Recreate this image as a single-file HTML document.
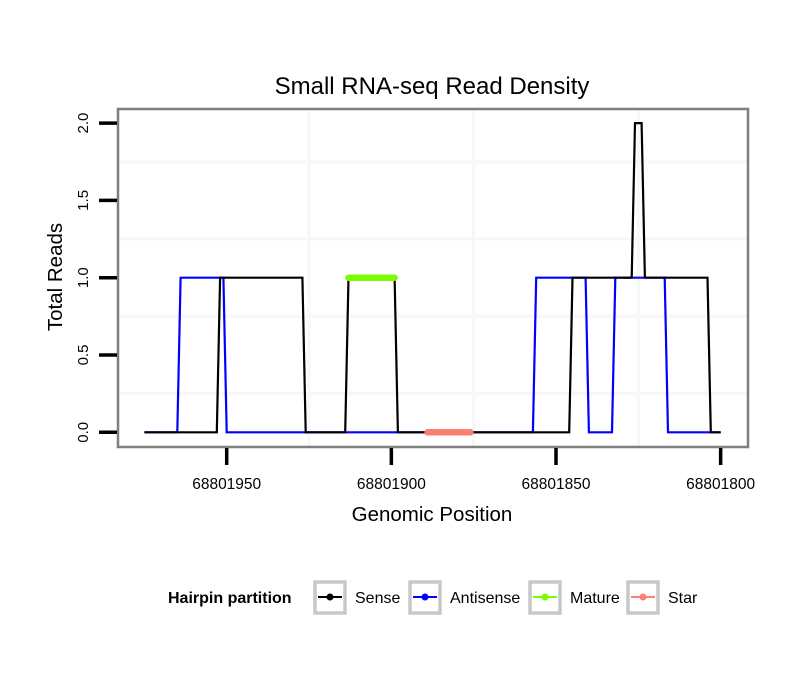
<!DOCTYPE html>
<html><head><meta charset="utf-8"><style>
body{margin:0;background:#fff;}
svg{display:block;font-family:"Liberation Sans",sans-serif;}
</style></head><body>
<svg id="chart" width="810" height="690">
<rect x="0" y="0" width="810" height="690" fill="#fff"/>
<text x="432" y="94" font-size="24" text-anchor="middle">Small RNA-seq Read Density</text>
<rect x="118" y="109" width="630" height="338" fill="#fff"/>
<g id="grid"></g>
<g id="series"></g>
<rect x="118" y="109" width="630" height="338" fill="none" stroke="#7f7f7f" stroke-width="2.5"/>
<g id="axes"></g>
<text x="432" y="521" font-size="20.5" text-anchor="middle">Genomic Position</text>
<text transform="translate(62,277) rotate(-90)" font-size="20.5" text-anchor="middle">Total Reads</text>
<g>
<text x="168" y="603" font-size="16" font-weight="bold">Hairpin partition</text>
<g><rect x="315" y="582" width="30" height="31" fill="#fff" stroke="#c8c8c8" stroke-width="3.5"/><line x1="318" y1="597" x2="342" y2="597" stroke="#000" stroke-width="2"/><circle cx="330" cy="597" r="3.5" fill="#000"/><text x="355" y="603" font-size="16">Sense</text></g>
<g><rect x="410" y="582" width="30" height="31" fill="#fff" stroke="#c8c8c8" stroke-width="3.5"/><line x1="413" y1="597" x2="437" y2="597" stroke="#00f" stroke-width="2"/><circle cx="425" cy="597" r="3.5" fill="#00f"/><text x="450" y="603" font-size="16">Antisense</text></g>
<g><rect x="530" y="582" width="30" height="31" fill="#fff" stroke="#c8c8c8" stroke-width="3.5"/><line x1="533" y1="597" x2="557" y2="597" stroke="#7cfc00" stroke-width="2"/><circle cx="545" cy="597" r="3.5" fill="#7cfc00"/><text x="570" y="603" font-size="16">Mature</text></g>
<g><rect x="628" y="582" width="30" height="31" fill="#fff" stroke="#c8c8c8" stroke-width="3.5"/><line x1="631" y1="597" x2="655" y2="597" stroke="#fa8072" stroke-width="2"/><circle cx="643" cy="597" r="3.5" fill="#fa8072"/><text x="668" y="603" font-size="16">Star</text></g>
</g>
</svg>
<script>
const xTicks = [68801950, 68801900, 68801850, 68801800];
const xMinor = [68801925, 68801875, 68801825];
const yTicks = [0, 0.5, 1.0, 1.5, 2.0];
const yTickLabels = ["0.0", "0.5", "1.0", "1.5", "2.0"];
const yMinor = [0.25, 0.75, 1.25, 1.75];
const sensePos = [68801975,68801953,68801952,68801927,68801926,68801914,68801913,68801899,68801898,68801846,68801845,68801827,68801826,68801824,68801823,68801804,68801803,68801800];
const senseVal = [0,0,1,1,0,0,1,1,0,0,1,1,2,2,1,1,0,0];
const antiPos = [68801975,68801965,68801964,68801951,68801950,68801857,68801856,68801841,68801840,68801833,68801832,68801817,68801816,68801800];
const antiVal = [0,0,1,1,0,0,1,1,0,0,1,1,0,0];
const maturePos = [68801913, 68801899];
const matureVal = [1, 1];
const starPos = [68801889, 68801876];
const starVal = [0, 0];

const NS = "http://www.w3.org/2000/svg";
function xs(p){ return 226.7 + (68801950 - p) * 3.293; }
function ys(v){ return 432.3 - v * 154.6; }
function mk(tag, attrs, parent){ const e = document.createElementNS(NS, tag); for (const k in attrs) e.setAttribute(k, attrs[k]); parent.appendChild(e); return e; }

const grid = document.getElementById('grid');
xMinor.forEach(p => {
  const l = mk('line', {x1: xs(p), x2: xs(p), y1: 110, y2: 446, stroke: '#f7f7f7', 'stroke-width': 3}, grid);
  
  
});
yMinor.forEach(v => {
  const l = mk('line', {x1: 119, x2: 747, y1: ys(v), y2: ys(v), stroke: '#f7f7f7', 'stroke-width': 3}, grid);
  
  
});

const series = document.getElementById('series');
function path(pos, val, color, w, name, cap){
  const d = pos.map((p, i) => (i ? 'L' : 'M') + xs(p).toFixed(1) + ',' + ys(val[i]).toFixed(1)).join(' ');
  const e = mk('path', {d: d, fill: 'none', stroke: color, 'stroke-width': w, 'stroke-linecap': cap, 'stroke-linejoin': 'miter'}, series);
  
  
}
path(antiPos, antiVal, '#0000ff', 2.2, 'antisense-line', 'butt');
path(sensePos, senseVal, '#000000', 2.2, 'sense-line', 'butt');
path(maturePos, matureVal, '#7cfc00', 6.5, 'mature-segment', 'round');
path(starPos, starVal, '#fa8072', 6.5, 'star-segment', 'round');

const axes = document.getElementById('axes');
xTicks.forEach(p => {
  const t = mk('line', {x1: xs(p), x2: xs(p), y1: 448, y2: 465, stroke: '#000', 'stroke-width': 3.5}, axes);
  
  
  const l = mk('text', {x: xs(p), y: 489, 'font-size': 15.5, 'text-anchor': 'middle'}, axes);
  l.textContent = String(p);
  
  
});
yTicks.forEach((v, i) => {
  const t = mk('line', {x1: 99, x2: 117, y1: ys(v), y2: ys(v), stroke: '#000', 'stroke-width': 3.5}, axes);
  
  
  const l = mk('text', {transform: 'translate(88,' + ys(v) + ') rotate(-90)', 'font-size': 15, 'text-anchor': 'middle'}, axes);
  l.textContent = yTickLabels[i];
  
  
});
</script>
</body></html>
